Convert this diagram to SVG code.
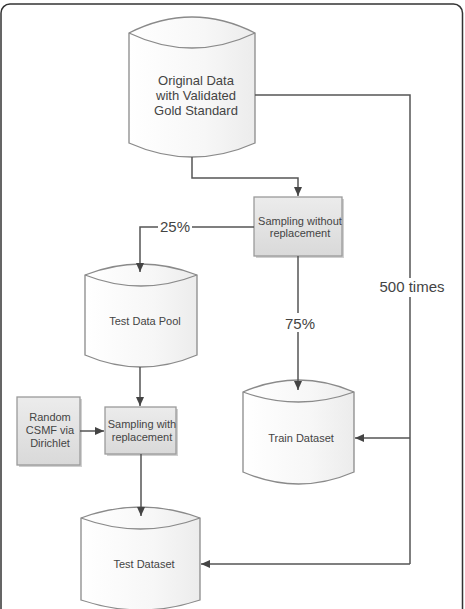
<svg xmlns="http://www.w3.org/2000/svg" width="465" height="609" viewBox="0 0 465 609">
<defs>
<linearGradient id="cyl" x1="0" y1="0" x2="1" y2="0">
<stop offset="0" stop-color="#ffffff"/><stop offset="0.6" stop-color="#f7f7f7"/><stop offset="1" stop-color="#ececec"/>
</linearGradient>
<linearGradient id="box" x1="0" y1="0" x2="0" y2="1">
<stop offset="0" stop-color="#ececec"/><stop offset="1" stop-color="#d9d9d9"/>
</linearGradient>
<marker id="ah" markerWidth="10" markerHeight="10" refX="9" refY="5" orient="auto" markerUnits="userSpaceOnUse">
<path d="M0,1 L9,5 L0,9 Z" fill="#444"/>
</marker>
</defs>
<style>
.cyl{fill:url(#cyl);stroke:#8a8a8a;stroke-width:1.3}
.lid{fill:none;stroke:#8a8a8a;stroke-width:1.3}
.box{fill:url(#box);stroke:#9a9a9a;stroke-width:1.3}
.sh{fill:#d0d0d0}
.t{font-family:"Liberation Sans",Arial,sans-serif;fill:#444;text-anchor:middle}
.c{fill:none;stroke:#555;stroke-width:1.5;marker-end:url(#ah)}
.cn{fill:none;stroke:#555;stroke-width:1.5}
.lbl{font-family:"Liberation Sans",Arial,sans-serif;fill:#444;text-anchor:middle;font-size:15px}
</style>
<rect x="1" y="4" width="461.5" height="640" rx="9" fill="#fff" stroke="#333" stroke-width="1.5"/>

<g id="original">
<path class="cyl" d="M129,33 Q192,1 255,33 L255,143 Q192,171 129,143 Z"/>
<path class="lid" d="M129,33 Q192,63 255,33"/>
<text class="t" font-size="13" x="196" y="85">Original Data</text>
<text class="t" font-size="13" x="196" y="100">with Validated</text>
<text class="t" font-size="13" x="196" y="115">Gold Standard</text>
</g>

<g id="sampling-without">
<rect class="sh" x="256" y="199" width="88" height="59"/>
<rect class="box" x="254" y="197" width="88" height="59"/>
<text class="t" font-size="11" x="300" y="225">Sampling without</text>
<text class="t" font-size="11" x="300" y="237">replacement</text>
</g>

<g id="test-pool">
<path class="cyl" d="M85,275 Q141,253 197,275 L197,355 Q141,379 85,355 Z"/>
<path class="lid" d="M85,275 Q141,297 197,275"/>
<text class="t" font-size="11" x="145" y="325">Test Data Pool</text>
</g>

<g id="train">
<path class="cyl" d="M243,392 Q298.5,368 354,392 L354,472 Q298.5,496 243,472 Z"/>
<path class="lid" d="M243,392 Q298.5,412 354,392"/>
<text class="t" font-size="11" x="301" y="442">Train Dataset</text>
</g>

<g id="random-csmf">
<rect class="sh" x="19" y="399" width="63" height="68"/>
<rect class="box" x="17" y="397" width="63" height="68"/>
<text class="t" font-size="11" x="50" y="421">Random</text>
<text class="t" font-size="11" x="50" y="434">CSMF via</text>
<text class="t" font-size="11" x="50" y="447">Dirichlet</text>
</g>

<g id="sampling-with">
<rect class="sh" x="107" y="409" width="71" height="47"/>
<rect class="box" x="105" y="407" width="71" height="47"/>
<text class="t" font-size="11" x="142" y="428">Sampling with</text>
<text class="t" font-size="11" x="142" y="441">replacement</text>
</g>

<g id="test-dataset">
<path class="cyl" d="M81,518 Q140.5,496 200,518 L200,600 Q140.5,620 81,600 Z"/>
<path class="lid" d="M81,518 Q140.5,540 200,518"/>
<text class="t" font-size="11" x="144" y="568">Test Dataset</text>
</g>

<g id="connectors">
<path class="c" d="M192,157 V178 H298 V196"/>
<path class="c" d="M254,227 H140 V272"/>
<path class="c" d="M298,256 V390"/>
<path class="c" d="M140,367 V406"/>
<path class="c" d="M80,431 H104"/>
<path class="c" d="M141,454 V516"/>
<path class="cn" d="M255,95 H410 V564"/>
<path class="c" d="M410,564 H201"/>
<path class="c" d="M410,438 H355"/>
<rect x="158" y="217" width="34" height="19" fill="#fff"/>
<text class="lbl" x="175" y="232">25%</text>
<rect x="282" y="313" width="36" height="19" fill="#fff"/>
<text class="lbl" x="300" y="329">75%</text>
<rect x="378" y="278" width="68" height="19" fill="#fff"/>
<text class="lbl" x="412" y="292">500 times</text>
</g>
</svg>
